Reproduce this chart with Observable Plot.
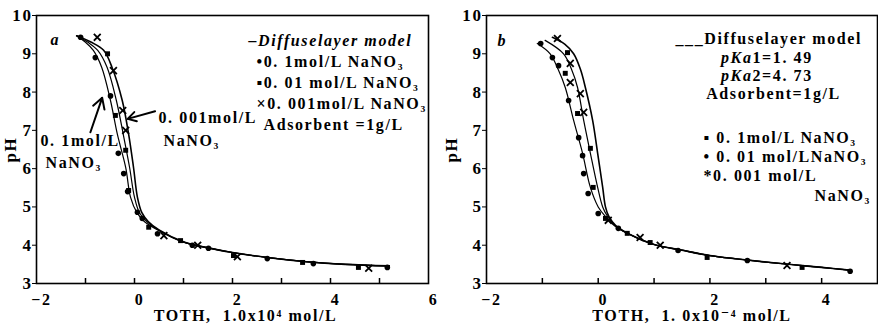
<!DOCTYPE html>
<html>
<head>
<meta charset="utf-8">
<script src="https://cdn.jsdelivr.net/npm/d3@7"></script>
<script src="https://cdn.jsdelivr.net/npm/@observablehq/plot@0.6"></script>
<style>
  html, body { margin: 0; padding: 0; background: #fff; }
  #wrap { display: flex; width: 878px; height: 333px; overflow: hidden; }
  svg text { letter-spacing: 1.6px; }
</style>
</head>
<body>
<div id="wrap"></div>
<script>
// ---------- Panel a: model curves [TOTH (1e-4 mol/L), pH] ----------
const aModel01 = [[-1.18,9.47],[-1.0,9.3],[-0.84,9.09],[-0.67,8.65],[-0.49,7.78],[-0.35,6.9],[-0.18,6.03],[-0.08,5.25],[0.05,4.85],[0.2,4.62],[0.5,4.38],[1.0,4.08],[1.5,3.93],[2.0,3.81],[2.7,3.68],[3.5,3.57],[4.3,3.5],[5.2,3.46]];
const aModel001 = [[-1.18,9.47],[-0.95,9.3],[-0.75,9.09],[-0.56,8.65],[-0.37,7.78],[-0.23,6.9],[-0.1,6.03],[0.0,5.25],[0.1,4.85],[0.25,4.62],[0.5,4.39],[1.0,4.08],[1.5,3.93],[2.0,3.81],[2.7,3.68],[3.5,3.57],[4.3,3.5],[5.2,3.46]];
const aModel0001 = [[-1.18,9.47],[-0.88,9.3],[-0.63,9.09],[-0.46,8.65],[-0.25,7.78],[-0.12,6.9],[-0.02,6.03],[0.06,5.25],[0.15,4.85],[0.28,4.62],[0.5,4.4],[1.0,4.09],[1.5,3.93],[2.0,3.81],[2.7,3.68],[3.5,3.57],[4.3,3.5],[5.2,3.46]];
// ---------- Panel a: measured points ----------
const aPts01 = [[-1.1,9.43],[-0.8,8.9],[-0.49,7.9],[-0.33,6.4],[-0.22,5.87],[-0.14,5.4],[0.06,4.86],[0.16,4.7],[0.47,4.3],[1.18,4.0],[1.51,3.92],[2.71,3.65],[3.65,3.52],[5.16,3.42]];
const aPts001 = [[-0.55,9.0],[-0.39,7.39],[-0.18,6.48],[-0.12,5.43],[0.29,4.47],[0.94,4.12],[2.02,3.73],[3.43,3.55],[4.57,3.42]];
const aPts0001 = [[-0.76,9.43],[-0.43,8.56],[-0.24,7.52],[-0.18,7.0],[0.6,4.25],[1.29,4.0],[2.1,3.7],[4.78,3.4]];

// ---------- Panel b: model curves ----------
const bModel01 = [[-1.09,9.27],[-0.86,9.0],[-0.72,8.6],[-0.59,8.12],[-0.44,7.26],[-0.28,6.4],[-0.14,5.51],[0.0,5.0],[0.13,4.75],[0.3,4.5],[0.54,4.3],[1.0,4.02],[1.5,3.87],[2.0,3.73],[2.5,3.64],[3.0,3.56],[3.5,3.49],[4.0,3.42],[4.5,3.35]];
const bModel001 = [[-0.95,9.35],[-0.62,9.0],[-0.48,8.6],[-0.37,8.12],[-0.26,7.26],[-0.14,6.4],[-0.01,5.51],[0.08,5.0],[0.16,4.77],[0.3,4.51],[0.54,4.3],[1.0,4.02],[1.5,3.87],[2.0,3.73],[2.5,3.64],[3.0,3.56],[3.5,3.49],[4.0,3.42],[4.5,3.35]];
const bModel0001 = [[-0.82,9.43],[-0.6,9.25],[-0.44,9.0],[-0.32,8.6],[-0.23,8.12],[-0.1,7.26],[-0.01,6.4],[0.08,5.51],[0.13,5.0],[0.19,4.75],[0.31,4.52],[0.54,4.3],[1.0,4.02],[1.5,3.87],[2.0,3.73],[2.5,3.64],[3.0,3.56],[3.5,3.49],[4.0,3.42],[4.5,3.35]];
// ---------- Panel b: measured points ----------
const bPts01 = [[-1.03,9.27],[-0.82,8.9],[-0.71,8.69],[-0.53,7.78],[-0.35,6.81],[-0.28,6.34],[-0.26,5.87],[-0.18,5.35],[0.0,4.83],[0.36,4.44],[1.43,3.86],[2.67,3.6],[4.51,3.32]];
const bPts001 = [[-0.55,9.03],[-0.59,8.49],[-0.37,7.44],[-0.14,6.53],[-0.09,5.51],[0.13,4.7],[0.52,4.31],[0.93,4.07],[1.95,3.68],[3.65,3.42]];
const bPts0001 = [[-0.73,9.4],[-0.5,8.75],[-0.5,8.25],[-0.32,7.96],[-0.26,7.47],[0.18,4.65],[0.75,4.2],[1.11,4.0],[3.38,3.47]];

// ---------- tick labels ----------
const yTicks = [3,4,5,6,7,8,9,10];
const aXTicks = [-2,0,2,4,6];
const bXTicks = [-2,0,2,4];
const aXMinor = [-1,0,1,2,3,4,5];
const bXMinor = [-1,0,1,2,3,4];

const FONT = "'Liberation Serif', 'DejaVu Serif', serif";
const W = 439, H = 333, MT = 15, MB = 50;
const plotH = H - MT - MB;

function txt(s, dx, dy, extra = {}) {
  return Plot.text([s], {frameAnchor: "top-left", dx, dy, text: d => d, textAnchor: "start", fontSize: 16, fill: "black", ...extra});
}

function panel({models, pts, xDomain, xTicks, xMinor, marginLeft, marginRight, xLabel, xLabelDx, yLabelOffset, annotations}) {
  const P = (d) => d[0], Q = (d) => d[1];
  return Plot.plot({
    width: W, height: H,
    marginTop: MT, marginBottom: MB, marginLeft, marginRight,
    x: {domain: xDomain},
    y: {domain: [3, 10]},
    style: {fontFamily: FONT, fontSize: "16px", fontWeight: "bold", background: "white", color: "black", overflow: "visible"},
    marks: [
      Plot.frame({stroke: "black", strokeWidth: 1.6}),
      Plot.tickX(xMinor, {x: d => d, insetTop: plotH - 5, stroke: "black", strokeWidth: 1.5}),
      Plot.axisX({ticks: xTicks, tickFormat: "d", tickSize: 0, tickPadding: 10, dx: 5, fontSize: 16, label: null}),
      Plot.axisY({ticks: yTicks, tickFormat: "d", tickSize: 4, tickPadding: 0, fontSize: 17, label: "pH", labelAnchor: "center", labelOffset: yLabelOffset, labelArrow: "none"}),
      Plot.text([xLabel], {frameAnchor: "bottom", dx: xLabelDx, dy: 37, text: d => d, fontSize: 16, fill: "black"}),
      ...models.map((m, i) => Plot.line(m, {x: P, y: Q, stroke: "black", strokeWidth: i === 2 ? 1.6 : 1.2, curve: "catmull-rom"})),
      Plot.dot(pts[0], {x: P, y: Q, r: 2.8, fill: "black", symbol: "circle"}),
      Plot.dot(pts[1], {x: P, y: Q, r: 2.8, fill: "black", symbol: "square"}),
      Plot.dot(pts[2], {x: P, y: Q, r: 3.2, stroke: "black", strokeWidth: 1.8, symbol: "times"}),
      ...annotations
    ]
  });
}

const left = panel({
  models: [aModel01, aModel001, aModel0001],
  pts: [aPts01, aPts001, aPts0001],
  xDomain: [-2, 6], xTicks: aXTicks, xMinor: aXMinor,
  marginLeft: 36, marginRight: 11, yLabelOffset: 33,
  xLabel: "TOTH,  1.0x10⁴ mol/L", xLabelDx: 13,
  annotations: [
    txt("a", 14, 18, {fontStyle: "italic"}),
    txt("–Diffuselayer model", 212, 19, {fontStyle: "italic"}),
    txt("•0. 1mol/L NaNO₃", 220, 40),
    txt("▪0. 01 mol/L NaNO₃", 220, 61),
    txt("×0. 001mol/L NaNO₃", 220, 82),
    txt("Adsorbent =1g/L", 227, 103),
    txt("0. 001mol/L", 122, 96),
    txt("NaNO₃", 127, 119),
    txt("0. 1mol/L", 4, 119),
    txt("NaNO₃", 9, 141),
    Plot.arrow([0], {x1: 0.42, y1: 7.5, x2: -0.14, y2: 7.3, stroke: "black", strokeWidth: 2, headLength: 9}),
    Plot.arrow([0], {x1: -0.9, y1: 6.95, x2: -0.66, y2: 7.85, stroke: "black", strokeWidth: 2, headLength: 9})
  ]
});

const right = panel({
  models: [bModel01, bModel001, bModel0001],
  pts: [bPts01, bPts001, bPts0001],
  xDomain: [-2, 5], xTicks: bXTicks, xMinor: bXMinor,
  marginLeft: 47, marginRight: 1, yLabelOffset: 42,
  xLabel: "TOTH,  1. 0x10⁻⁴ mol/L", xLabelDx: 10,
  annotations: [
    txt("b", 11, 19, {fontStyle: "italic"}),
    txt("___Diffuselayer model", 189, 17),
    txt("pKa", 266, 36, {fontStyle: "italic", textAnchor: "end"}),
    txt("1=1. 49", 266, 36),
    txt("pKa", 266, 54, {fontStyle: "italic", textAnchor: "end"}),
    txt("2=4. 73", 266, 54),
    txt("Adsorbent=1g/L", 287, 72, {textAnchor: "middle"}),
    txt("▪ 0. 1mol/L NaNO₃", 217, 116),
    txt("• 0. 01 mol/LNaNO₃", 217, 135),
    txt("*0. 001 mol/L", 217, 154),
    txt("NaNO₃", 328, 174)
  ]
});

document.getElementById("wrap").append(left, right);
</script>
</body>
</html>
